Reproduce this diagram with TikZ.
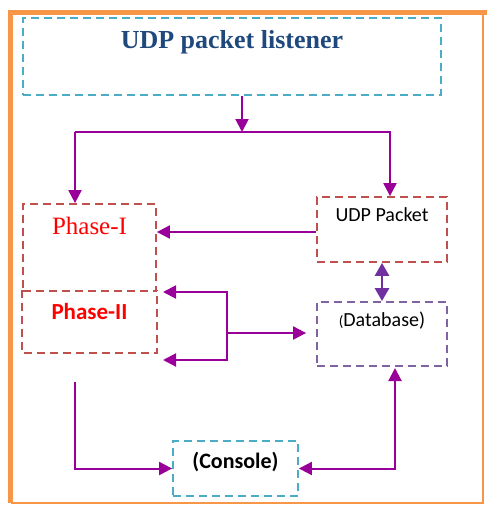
\documentclass[tikz,border=0pt]{standalone}
\usepackage{fontspec}
\setmainfont{Liberation Serif}
\newfontfamily\calfont{Carlito}
\usetikzlibrary{arrows.meta}
\definecolor{frameOrange}{HTML}{F79646}
\definecolor{aqua}{HTML}{4BACC6}
\definecolor{brick}{HTML}{C0504D}
\definecolor{lilac}{HTML}{8064A2}
\definecolor{ink}{HTML}{1F497D}
\definecolor{plum}{HTML}{990099}
\definecolor{grape}{HTML}{7030A0}
\tikzset{
  dashbox/.style={rectangle, line width=1.8pt, dash pattern=on 8pt off 5pt,
                  inner sep=0pt, align=center},
  dashline/.style={line width=1.8pt, dash pattern=on 8pt off 5pt},
  listenerbox/.style={dashbox, draw=aqua, minimum width=418pt,
                      text height=30pt, text depth=47pt,
                      font=\fontsize{26}{30}\selectfont\bfseries, text=ink},
  phasebox/.style={dashbox, minimum width=133pt, text=red},
  packetbox/.style={dashbox, draw=brick, minimum width=130pt,
                    text height=24pt, text depth=41pt,
                    font=\calfont\fontsize{20}{24}\selectfont},
  dbbox/.style={dashbox, draw=lilac, minimum width=130pt,
                text height=24pt, text depth=40pt,
                font=\calfont\fontsize{20}{24}\selectfont},
  consolebox/.style={dashbox, draw=aqua, minimum width=125pt,
                     text height=27pt, text depth=28pt,
                     font=\calfont\fontsize{22}{26}\selectfont\bfseries},
  flow/.style={-{Triangle[length=13pt,width=13pt]}, line width=2pt, draw=plum},
  twoway/.style={{Triangle[length=13pt,width=13pt]}-{Triangle[length=13pt,width=13pt]},
                 line width=2pt, draw=plum},
  dblink/.style={{Triangle[length=13pt,width=14pt]}-{Triangle[length=13pt,width=14pt]},
                 line width=2.8pt, draw=grape}
}
\begin{document}
\begin{tikzpicture}[x=1pt,y=-1pt]
\useasboundingbox (0,0) rectangle (487,506);
% frame
\draw[frameOrange, line width=2pt] (12,14) rectangle (483,503);
\draw[frameOrange, line width=5pt] (10,503) -- (10,12.5) -- (487,12.5);

\node[listenerbox] (listener) at (232,56.5) {UDP packet listener};
\node[phasebox, draw=brick, text height=30pt, text depth=57pt,
      font=\fontsize{25}{30}\selectfont] (phaseI) at (89.5,247.5) {Phase-I};
\node[phasebox, text height=28pt, text depth=33pt,
      font=\calfont\fontsize{23}{26}\selectfont\bfseries] (phaseII) at (89.5,321.5) {Phase-II};
% lower half shares its top edge with phaseI
\draw[dashline, brick] (phaseII.north west) -- (phaseII.south west)
  -- (phaseII.south east) -- (phaseII.north east);
\node[packetbox] (packet) at (382,229.5) {UDP Packet};
\node[dbbox] (database) at (382,334) {{\fontsize{15}{18}\selectfont(}Database)};
\node[consolebox] (console) at (235.5,468.5) {(Console)};

% junction points
\coordinate (split) at (242,132);
\coordinate (lbranch) at (75,132);
\coordinate (rbranch) at (390,132);
\coordinate (fork) at (227,333);
\coordinate (upin) at (163,292);
\coordinate (lowin) at (163,360);
\coordinate (outtap) at (75,382);
\coordinate (dbtap) at (395,368);

\draw[flow] (listener.south -| split) -- (split);
\draw[flow] (lbranch) -- (rbranch) -- (rbranch |- packet.north);
\draw[flow] (lbranch) -- (lbranch |- phaseI.north);
\draw[flow] (packet.west |- 0,232) -- (phaseI.east |- 0,232);
\draw[dblink] (packet.south) -- (database.north);
\draw[flow, shorten >=10pt] (fork) -- (fork -| database.west);
\draw[flow] (fork) |- (upin);
\draw[flow] (fork) |- (lowin);
\draw[flow] (outtap) |- (console.west);
\draw[twoway] (console.east) -| (dbtap);
\end{tikzpicture}
\end{document}
